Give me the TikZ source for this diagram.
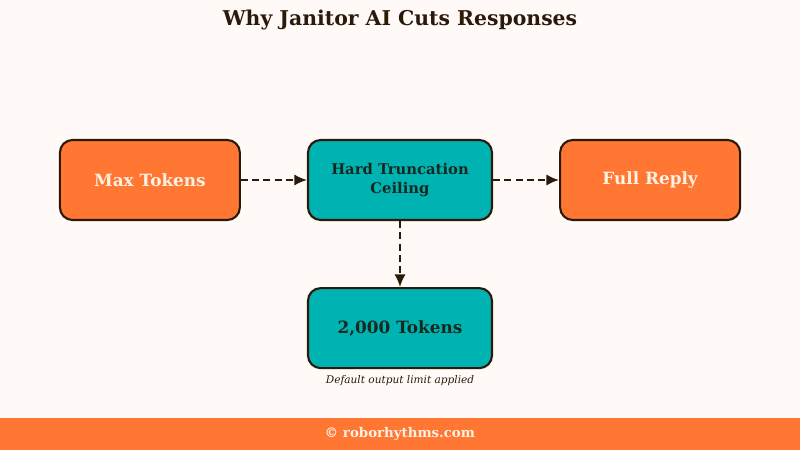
\documentclass[tikz,border=0pt]{standalone}
\usepackage{fontspec}
\setmainfont{DejaVu Serif}
\usepackage{xcolor}
\usepackage{tikz}
\usetikzlibrary{arrows.meta, positioning, backgrounds}

\definecolor{pagebg}{HTML}{FFFAF8}
\definecolor{edge}{HTML}{2B1A0A}
\definecolor{flame}{HTML}{FF7733}
\definecolor{teal}{HTML}{00B3B3}
\definecolor{cream}{HTML}{FFF1E2}
\definecolor{inkdark}{HTML}{17281F}

\tikzset{
  box/.style={draw=edge, line width=1.5pt, rounded corners=9pt, minimum height=2cm, align=center, font=\bfseries},
  hotbox/.style={box, fill=flame, text=cream, minimum width=4.5cm, font=\bfseries\fontsize{12}{14}\selectfont},
  coolbox/.style={box, fill=teal, text=inkdark, minimum width=4.6cm},
  frame/.style={draw=edge, line width=1.5pt, fill=pagebg},
  flow/.style={-{Latex[length=9pt, width=8pt]}, dashed, dash pattern=on 5pt off 3pt, line width=1.4pt, draw=edge}
}

\begin{document}
\begin{tikzpicture}
    % Page and footer
    \fill[pagebg] (0,0) rectangle (20,11.25);
    \useasboundingbox (0,0) rectangle (20,11.25);
    \fill[flame] (0,0) rectangle (20,0.8);
    \node[text=cream, font=\bfseries\fontsize{9.5}{11}\selectfont] (foot) at (10,0.4) {© roborhythms.com};

    \node[text=edge, font=\bfseries\fontsize{14.5}{17}\selectfont] (title) at (10,10.75) {Why Janitor AI Cuts Responses};

    % Boxes
    \node[coolbox, font=\bfseries\fontsize{10.5}{13}\selectfont] (ceiling) at (10,6.75) {Hard Truncation\\Ceiling};
    \node[hotbox, left=1.65cm of ceiling] (maxtok) {Max Tokens};
    \node[hotbox, right=1.65cm of ceiling] (reply) {Full Reply};
    \node[coolbox, below=1.65cm of ceiling, font=\bfseries\fontsize{12}{14}\selectfont] (limit) {2,000 Tokens};
    \node[below=1pt of limit, font=\itshape\fontsize{7.5}{9}\selectfont, text=edge] (note) {Default output limit applied};

    % Square frames behind the rounded boxes
    \begin{pgfonlayer}{background}
        \foreach \b in {maxtok, ceiling, reply, limit}
            \draw[frame] (\b.north west) rectangle (\b.south east);
    \end{pgfonlayer}

    % Arrows
    \draw[flow] (maxtok) -- (ceiling);
    \draw[flow] (ceiling) -- (reply);
    \draw[flow] (ceiling) -- (limit);
\end{tikzpicture}
\end{document}
